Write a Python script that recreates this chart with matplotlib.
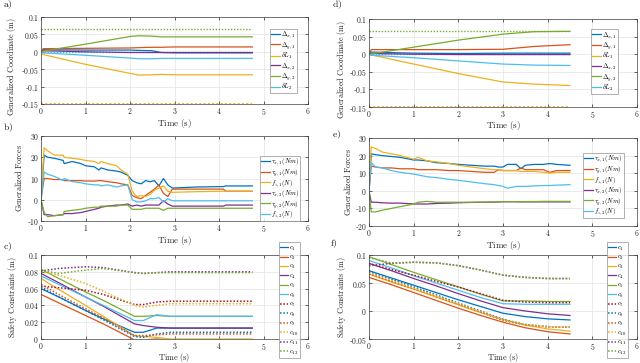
import numpy as np
import matplotlib
matplotlib.use("Agg")
import matplotlib.pyplot as plt
from matplotlib.ticker import FuncFormatter

plt.rcParams["mathtext.fontset"] = "cm"
plt.rcParams["font.family"] = "serif"
plt.rcParams["font.serif"] = ["DejaVu Serif"]

# matlab default colours
COLORS = ["#0072BD", "#D95319", "#EDB120", "#7E2F8E", "#77AC30", "#4DBEEE", "#A2142F"]

# ---- panel a (coordinates, trial 1)
t_a = [0, 0.05, 1.0, 2.0, 2.2, 2.5, 2.7, 3.0, 4.75]
dx1_a = [0, 0.006, 0.005, 0.005, 0.004, 0.003, -0.002, -0.003, -0.003]
dy1_a = [0, 0.009, 0.010, 0.011, 0.012, 0.013, 0.013, 0.014, 0.014]
dL1_a = [0, -0.008, -0.036, -0.062, -0.067, -0.066, -0.065, -0.066, -0.066]
dx2_a = [0, 0.003, 0.0, -0.002, -0.002, -0.002, -0.002, -0.002, -0.002]
dy2_a = [0, 0.002, 0.022, 0.044, 0.046, 0.045, 0.043, 0.043, 0.043]
dL2_a = [0, -0.003, -0.010, -0.018, -0.020, -0.020, -0.019, -0.019, -0.019]

# ---- panel d (coordinates, trial 2)
t_d = [0, 0.05, 1.0, 2.0, 3.0, 3.7, 4.5]
dx1_d = [0, 0.006, 0.003, 0.002, 0.003, 0.003, 0.003]
dy1_d = [0, 0.013, 0.013, 0.013, 0.014, 0.022, 0.027]
dL1_d = [0, -0.002, -0.028, -0.055, -0.079, -0.085, -0.089]
dx2_d = [0, 0.002, 0.0, -0.001, -0.001, -0.001, -0.001]
dy2_d = [0, 0.001, 0.020, 0.040, 0.057, 0.064, 0.065]
dL2_d = [0, -0.003, -0.010, -0.019, -0.028, -0.031, -0.032]

# bounds shown as dotted lines
dy2_max = 0.065
dL1_min = -0.15

# ---- panel b (forces, trial 1)
t_b = [0, 0.07, 0.15, 0.3, 0.5, 0.52, 0.7, 0.9, 1.0, 1.2, 1.3, 1.35, 1.5, 1.7, 1.8,
       1.95, 2.05, 2.15, 2.25, 2.35, 2.45, 2.55, 2.65, 2.75, 2.85, 2.95, 3.5, 4.1, 4.15, 4.75]
tx1_b = [0, 21, 20, 19.5, 18.5, 17, 18, 17, 16, 15.5, 14, 15, 14, 13.5, 13,
         11.5, 9, 8, 7.5, 9, 8.5, 9, 6.5, 10, 7, 5.5, 6, 6.2, 6.5, 6.5]
ty1_b = [0, 10, 10, 9.5, 9.5, 9, 9, 9, 8.8, 8.8, 9, 9, 8.5, 8, 7.5,
         7, 2, 1, 0.5, 2, 3.5, 5, 7, 3, 1.5, 5, 5, 5, 4, 4]
fz1_b = [0, 24.5, 23, 21, 21, 20, 19.5, 19, 18.5, 18, 17, 18, 17, 16, 14,
         12, 4, 1.5, 2, 1.5, 2.5, 4.5, 5.5, 6.5, 4, 3.5, 3.8, 4, 4, 4]
tx2_b = [0, -7, -7, -7.5, -7, -6.5, -6.5, -6, -5.5, -4.5, -4, -3.5, -3, -2.5, -2.5,
         -2, -3, -2.5, -3, -2.5, -2.5, -2.5, -2.5, -0.5, -2, -3, -3, -3, -2.5, -2.5]
ty2_b = [0, -6, -8, -7.5, -7, -5.5, -5, -4.5, -4, -3.5, -3.5, -3, -3, -3, -2.5,
         -2.5, -4.5, -4.5, -4.5, -4, -4, -4, -4, -5, -4, -4, -4, -4, -4, -4]
fz2_b = [0, 13, 12, 11, 9, 10, 8.5, 8, 7.5, 7, 7, 6.5, 7, 6, 6.5,
         7, 0, -1, -1, -0.5, 0.5, 0.5, 1, -1, 0.5, -0.5, -0.5, -0.5, -0.5, -0.5]

# ---- panel e (forces, trial 2)
t_e = [0, 0.05, 0.15, 0.3, 0.5, 0.7, 1.0, 1.1, 1.3, 1.5, 1.8, 2.0, 2.3, 2.6, 2.8,
       2.9, 3.0, 3.1, 3.3, 3.4, 3.5, 3.7, 3.9, 4.05, 4.2, 4.5]
tx1_e = [0, 21, 20.5, 20, 19.5, 19, 17.5, 17.5, 17, 16, 15.5, 15, 14.5, 14, 14,
         13.5, 13.5, 15, 15, 12.5, 14.5, 15, 15, 15.5, 15, 14.5]
ty1_e = [0, 14, 13.5, 13, 13, 12.5, 12.5, 12, 12, 12, 11.5, 11.5, 11, 10.5, 10.5,
         12, 11.5, 11.5, 11.5, 13, 12, 12, 12, 10.5, 11.5, 11.5]
fz1_e = [0, 25, 24, 22, 21, 20, 18, 19, 17, 16.5, 15.5, 14.5, 13.5, 12.5, 12,
         12, 11.5, 11.5, 11.5, 11, 11, 11, 10.5, 10, 10.5, 10.5]
tx2_e = [0, -6.5, -6.5, -6.8, -7, -7, -7.5, -7.5, -7.5, -7.2, -7, -6.8, -6.6, -6.5, -6.4,
         -6.3, -6.2, -6.2, -6.2, -6.3, -6.3, -6.3, -6.3, -6.3, -6.3, -6.3]
ty2_e = [0, -12, -12, -11, -10, -9, -7.5, -6.5, -6, -6.5, -6.5, -6.5, -6.5, -6.4, -6.3,
         -6.3, -6.2, -6.2, -6.2, -6.2, -6.1, -6.1, -6, -6, -6, -6]
fz2_e = [0, 16, 13.5, 13, 11.5, 10.5, 9.5, 9, 8, 7.5, 6.5, 6, 5, 4, 3.5,
         3, 2.5, 1.5, 2.5, 2.5, 2.5, 2.8, 3, 3, 3.2, 3.5]

# ---- panel c (safety constraints, trial 1)
t_c = [0, 0.4, 1.0, 1.4, 2.1, 2.3, 2.6, 2.9, 4.75]
c_trial1 = [
    [0.060, 0.050, 0.034, 0.024, 0.008, 0.008, 0.013, 0.013, 0.013],
    [0.053, 0.043, 0.028, 0.018, -0.001, -0.001, 0.0, -0.001, -0.001],
    [0.072, 0.059, 0.040, 0.027, 0.004, 0.003, 0.002, 0.0, 0.0],
    [0.078, 0.067, 0.050, 0.039, 0.018, 0.016, 0.014, 0.013, 0.013],
    [0.083, 0.072, 0.056, 0.046, 0.027, 0.027, 0.028, 0.027, 0.027],
    [0.075, 0.065, 0.050, 0.040, 0.022, 0.022, 0.029, 0.027, 0.027],
    [0.063, 0.061, 0.058, 0.053, 0.041, 0.041, 0.044, 0.045, 0.045],
    [0.062, 0.050, 0.034, 0.023, 0.003, 0.002, 0.006, 0.008, 0.008],
    [0.065, 0.053, 0.036, 0.025, 0.004, 0.004, 0.005, 0.006, 0.006],
    [0.080, 0.076, 0.066, 0.057, 0.040, 0.038, 0.040, 0.042, 0.042],
    [0.081, 0.084, 0.086, 0.085, 0.079, 0.078, 0.079, 0.080, 0.080],
    [0.082, 0.078, 0.082, 0.084, 0.079, 0.078, 0.079, 0.079, 0.079],
]

# ---- panel f (safety constraints, trial 2)
t_f = [0, 0.5, 1.0, 1.5, 2.0, 2.5, 3.0, 3.5, 4.0, 4.5]
c_trial2 = [
    [0.072, 0.059, 0.046, 0.033, 0.020, 0.008, -0.004, -0.010, -0.014, -0.016],
    [0.060, 0.047, 0.033, 0.019, 0.005, -0.008, -0.020, -0.030, -0.037, -0.041],
    [0.066, 0.052, 0.039, 0.025, 0.011, -0.003, -0.015, -0.025, -0.032, -0.036],
    [0.085, 0.072, 0.058, 0.045, 0.031, 0.018, 0.006, 0.0, -0.005, -0.008],
    [0.097, 0.083, 0.069, 0.056, 0.043, 0.030, 0.018, 0.018, 0.017, 0.017],
    [0.090, 0.077, 0.063, 0.050, 0.037, 0.024, 0.013, 0.012, 0.012, 0.012],
    [0.085, 0.074, 0.064, 0.053, 0.043, 0.031, 0.019, 0.016, 0.015, 0.015],
    [0.070, 0.057, 0.043, 0.029, 0.014, 0.0, -0.015, -0.024, -0.028, -0.029],
    [0.066, 0.053, 0.040, 0.026, 0.012, -0.002, -0.017, -0.025, -0.028, -0.029],
    [0.068, 0.055, 0.041, 0.027, 0.013, -0.001, -0.016, -0.024, -0.028, -0.029],
    [0.081, 0.085, 0.087, 0.086, 0.081, 0.073, 0.064, 0.060, 0.058, 0.058],
    [0.095, 0.086, 0.087, 0.086, 0.081, 0.073, 0.064, 0.060, 0.058, 0.058],
]

coord_labels = [r"$\Delta_{x,1}$", r"$\Delta_{y,1}$", r"$\delta L_1$",
                r"$\Delta_{x,2}$", r"$\Delta_{y,2}$", r"$\delta L_2$"]
force_labels = [r"$\tau_{x,1}(Nm)$", r"$\tau_{y,1}(Nm)$", r"$f_{z,1}(N)$",
                r"$\tau_{x,2}(Nm)$", r"$\tau_{y,2}(Nm)$", r"$f_{z,2}(N)$"]
constraint_labels = [r"$c_{%d}$" % (i + 1) for i in range(12)]

LW = 0.9
FS = 5.5
LABEL_FS = 5.8
DOT = (0, (1, 1.2))

W, H = 640.0, 363.0


def mfmt(v, pos):
    # hyphen instead of the wide math minus, as matlab prints it
    s = "%g" % round(v, 4)
    if s.startswith("-"):
        return r"-$%s$" % s[1:]
    return r"$%s$" % s


def style_axes(ax, yticks, ylabel, ylab_x, ylab_y=0.5, xlab_off=12.5, xlab_fs=6.5):
    ax.set_xlim(0, 6)
    ax.set_xticks(range(7))
    ax.set_ylim(yticks[0], yticks[-1])
    ax.set_yticks(yticks)
    ax.xaxis.set_major_formatter(FuncFormatter(mfmt))
    ax.yaxis.set_major_formatter(FuncFormatter(mfmt))
    ax.grid(True, color="#e3e3e3", lw=0.5)
    ax.set_axisbelow(True)
    for sp in ax.spines.values():
        sp.set_color("0.25")
        sp.set_linewidth(0.5)
    ax.tick_params(direction="in", length=2.5, width=0.5, labelsize=FS, colors="0.15",
                   top=True, right=True, pad=1.5)
    ax.set_xlabel(r"$\mathrm{Time\ (s)}$", fontsize=xlab_fs, color="0.15")
    ax.set_ylabel(ylabel, fontsize=LABEL_FS, color="0.15")
    h = ax.get_position().height * H
    ax.xaxis.set_label_coords(0.5, -xlab_off / h)
    ax.yaxis.set_label_coords(ylab_x, ylab_y)


def add_legend(ax, x0, ytop, fs, spacing, hl=1.3):
    leg = ax.legend(loc="upper left", bbox_to_anchor=(x0, ytop), fontsize=fs,
                    frameon=True, fancybox=False, handlelength=hl, handletextpad=0.2,
                    labelspacing=spacing, borderpad=0.15, borderaxespad=0)
    leg.get_frame().set_edgecolor("0.55")
    leg.get_frame().set_linewidth(0.6)
    return leg


fig = plt.figure(figsize=(6.4, 3.63), dpi=100)


def px_axes(left, top, right, bottom):
    return fig.add_axes([left / W, 1 - bottom / H, (right - left) / W, (bottom - top) / H])


ax_a = px_axes(41, 17, 308, 104)
ax_b = px_axes(41, 136, 308, 221)
ax_c = px_axes(41, 255, 308, 339)
ax_d = px_axes(369, 19, 637, 107)
ax_e = px_axes(369, 138, 637, 226)
ax_f = px_axes(369, 255, 637, 339)

# coordinates
for ax, t, series, lx in [
    (ax_a, t_a, [dx1_a, dy1_a, dL1_a, dx2_a, dy2_a, dL2_a], -0.088),
    (ax_d, t_d, [dx1_d, dy1_d, dL1_d, dx2_d, dy2_d, dL2_d], -0.08),
]:
    t_end = [0, t[-1]]
    ax.plot(t_end, [0, 0], ls=DOT, color=COLORS[5], lw=1.0)
    ax.plot(t_end, [dy2_max, dy2_max], ls=DOT, color=COLORS[4], lw=1.0)
    ax.plot(t_end, [dL1_min, dL1_min], ls=DOT, color=COLORS[2], lw=1.4)
    for i, y in enumerate(series):
        ax.plot(t, y, color=COLORS[i], lw=LW, label=coord_labels[i])
    style_axes(ax, np.round(np.arange(-0.15, 0.101, 0.05), 2),
               r"$\mathrm{Generalized\ Coordinate\ (m)}$", lx, 0.43)

add_legend(ax_a, 0.858, 0.865, 4.8, 0.0)
add_legend(ax_d, 0.828, 0.885, 4.8, 0.0)

# forces
for ax, t, series, yt, lx in [
    (ax_b, t_b, [tx1_b, ty1_b, fz1_b, tx2_b, ty2_b, fz2_b], np.arange(-10, 31, 10), -0.065),
    (ax_e, t_e, [tx1_e, ty1_e, fz1_e, tx2_e, ty2_e, fz2_e], np.arange(-20, 31, 10), -0.06),
]:
    for i, y in enumerate(series):
        ax.plot(t, y, color=COLORS[i], lw=LW, label=force_labels[i])
    style_axes(ax, yt, r"$\mathrm{Generalized\ Forces}$", lx)

add_legend(ax_b, 0.82, 0.765, 4.8, 0.0)
add_legend(ax_e, 0.80, 0.83, 4.8, 0.0)

# safety constraints
for ax, t, series, yt, lx in [
    (ax_c, t_c, c_trial1, np.round(np.arange(0, 0.101, 0.02), 2), -0.082),
    (ax_f, t_f, c_trial2, np.round(np.arange(-0.05, 0.101, 0.05), 2), -0.078),
]:
    for i, y in enumerate(series):
        if i < 6:
            ax.plot(t, y, "-", color=COLORS[i % 7], lw=LW, label=constraint_labels[i])
        else:
            ax.plot(t, y, ls=DOT, color=COLORS[i % 7], lw=1.1, label=constraint_labels[i])
    style_axes(ax, yt, r"$\mathrm{Safety\ Constraints\ (m)}$", lx,
               xlab_off=11.5, xlab_fs=6.0)

add_legend(ax_c, 0.891, 1.15, 4.8, 0.05, hl=1.2)
add_legend(ax_f, 0.888, 1.15, 4.8, 0.05, hl=1.2)

for lbl, x, y in [("a)", 3, 5), ("b)", 3, 128), ("c)", 3, 247),
                  ("d)", 332, 5), ("e)", 332, 135), ("f)", 330, 244)]:
    fig.text(x / W, 1 - y / H, r"$\mathrm{%s}$" % lbl, fontsize=7, va="center",
             ha="left", color="0.1")

fig.savefig("out.png", dpi=100)
